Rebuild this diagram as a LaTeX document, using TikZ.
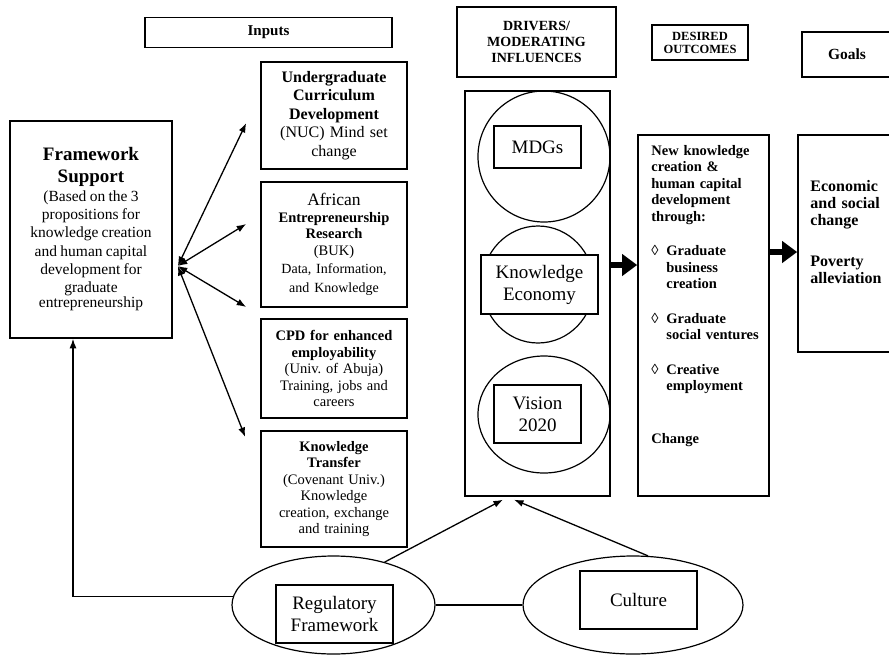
\documentclass[tikz,border=0pt]{standalone}
\usepackage{fontspec}
\setmainfont{Liberation Serif}
\usepackage{tikz}
\usetikzlibrary{arrows.meta,positioning,shapes.geometric}

\begin{document}
\begin{tikzpicture}[
    x=1pt, y=-1pt,
    >={Latex[length=9.5pt,width=7pt]},
    box/.style={draw, line width=1.6pt, align=center, inner sep=0pt, fill=white},
    inbox/.style={box, minimum width=146pt, text width=142pt, font=\fontsize{14.5}{16.5}\selectfont},
    circ/.style={draw, ellipse, line width=1.2pt, inner sep=0pt},
    drvbox/.style={draw, line width=1.3pt, fill=white, minimum width=87pt, align=center, inner sep=0pt, font=\fontsize{19}{22}\selectfont},
    txt/.style={anchor=north west, inner sep=0pt, align=left},
    arr/.style={->, line width=1.3pt},
    darr/.style={<->, line width=1.3pt},
    bigarr/.style={-{Triangle[length=15pt,width=21pt]}, line width=6pt}
]
\useasboundingbox (0,0) rectangle (889,654);
\clip (0,0) rectangle (889,654);

\node[box, minimum width=247pt, minimum height=30pt, font=\fontsize{15}{18}\selectfont\bfseries] (inputs) at (268.5,32.5) {Inputs};
\node[box, minimum width=159pt, minimum height=70pt, font=\fontsize{14}{16}\selectfont\bfseries] (drvh) at (536.5,42) {DRIVERS/\\MODERATING\\INFLUENCES};
\node[box, minimum width=96pt, minimum height=35pt, font=\fontsize{12.5}{13}\selectfont\bfseries] (desh) at (700,42.5) {DESIRED\\OUTCOMES};
\node[box, minimum width=90pt, minimum height=45pt, font=\fontsize{15.5}{18}\selectfont\bfseries] (goalh) at (847,54.5) {Goals};

\node[box, minimum width=162pt, minimum height=217pt, text width=158pt] (fw) at (91,229.5)
    {{\fontsize{19}{22}\selectfont\bfseries Framework\\Support\par}\fontsize{15.5}{18.3}\selectfont (Based on the 3\\propositions for\\knowledge creation\\and human capital\\development for\\graduate\\entrepreneurship};

\node[inbox, font=\fontsize{16}{18.5}\selectfont, minimum height=107pt] (in1) at (334,115.5)
    {\textbf{Undergraduate}\\\textbf{Curriculum}\\\textbf{Development}\\(NUC) Mind set\\change};
\node[inbox, minimum height=125pt] (in2) at (334,244.5)
    {{\fontsize{17.5}{19}\selectfont African\par}\textbf{Entrepreneurship}\\\textbf{Research}\\(BUK)\par{\fontsize{14}{18.5}\selectfont Data, Information,\\and Knowledge\par}};
\node[inbox, minimum height=99pt] (in3) at (334,368.5)
    {\textbf{CPD for enhanced}\\\textbf{employability}\\(Univ.\ of Abuja)\\Training, jobs and\\careers};
\node[inbox, minimum height=116pt] (in4) at (334,489)
    {\textbf{Knowledge}\\\textbf{Transfer}\\(Covenant Univ.)\\Knowledge\\creation, exchange\\and training};

\node[draw, line width=1.4pt, minimum width=145pt, minimum height=405pt] (drv) at (537.5,293.5) {};
\node[circ, minimum width=132pt, minimum height=131pt] (mdgc) at (544,156.5) {};
\node[circ, minimum width=112pt, minimum height=117pt] (kec) at (538,284.5) {};
\node[circ, minimum width=132pt, minimum height=117pt] (visc) at (544,414.5) {};
\node[drvbox, minimum height=42pt] (mdg) at (537.5,147) {MDGs};
\node[drvbox, minimum width=117pt, minimum height=59pt] (ke) at (539.5,284.5) {Knowledge\\Economy};
\node[drvbox, minimum height=58pt] (vis) at (537.5,414) {Vision\\2020};

\node[draw, line width=1.6pt, minimum width=131pt, minimum height=361pt] (des) at (703.5,315.5) {};
\node[txt, text width=118pt, font=\fontsize{14.5}{16.5}\selectfont\bfseries] (destxt) at ([shift={(14,11)}]des.north west)
    {New knowledge\\creation \&\\human capital\\development\\through:\\[18pt]
     \makebox[15pt][l]{\mdseries ◊}Graduate\\\hspace*{15pt}business\\\hspace*{15pt}creation\\[18pt]
     \makebox[15pt][l]{\mdseries ◊}Graduate\\\hspace*{15pt}social ventures\\[18pt]
     \makebox[15pt][l]{\mdseries ◊}Creative\\\hspace*{15pt}employment\\[36pt]
     Change};
\node[draw, line width=1.6pt, minimum width=97pt, minimum height=217pt] (goal) at (846.5,243.5) {};
\node[txt, text width=80pt, font=\fontsize{16}{17}\selectfont\bfseries] (goaltxt) at ([shift={(13,46)}]goal.north west)
    {Economic\\and social\\change\\[24pt]Poverty\\alleviation};

\node[circ, minimum width=203pt, minimum height=98pt] (reg) at (333.5,605) {};
\node[circ, minimum width=220pt, minimum height=98pt] (cul) at (633,605) {};
\node[drvbox, minimum width=117pt, minimum height=58pt] (regbox) at (334.5,614) {Regulatory\\Framework};
\node[drvbox, minimum width=117pt, minimum height=58pt] (culbox) at (638.5,600) {Culture};

\coordinate (hub) at ([shift={(5,36.5)}]fw.east);
\draw[darr] (hub) -- ([shift={(-14,7.5)}]in1.west);
\draw[darr] (hub) -- ([shift={(-14,-20.5)}]in2.west);
\draw[darr] (hub) -- ([shift={(-14,-61.5)}]in3.west);
\draw[darr] (hub) -- ([shift={(-15,-52)}]in4.west);
\draw[bigarr] ([shift={(0,-28.5)}]drv.east) -- ([shift={(0,-50.5)}]des.west);
\draw[bigarr] ([shift={(0,-63.5)}]des.east) -- ([shift={(0,8.5)}]goal.west);
\draw[arr] (reg.40) -- ([shift={(-34.5,3)}]drv.south);
\draw[arr] (cul.73) -- ([shift={(-23.5,3)}]drv.south);
\draw[line width=1.3pt] (reg.east) -- (cul.west);
\draw[arr] (reg.175) -| ([shift={(-18,0)}]fw.south);
\end{tikzpicture}
\end{document}
